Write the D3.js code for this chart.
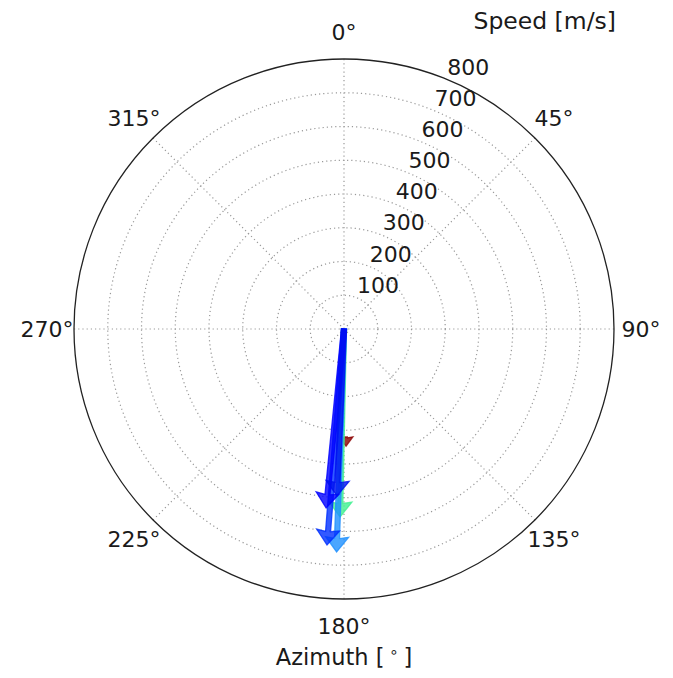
<!DOCTYPE html>
<html>
<head>
<meta charset="utf-8">
<script src="https://cdn.jsdelivr.net/npm/d3@7"></script>
<style>
  body { margin: 0; background: #fff; }
  text { font-family: "DejaVu Sans", sans-serif; fill: #1a1a1a; }
</style>
</head>
<body>
<svg id="chart" width="673" height="678"></svg>
<script>
// Azimuth grid (degrees, clockwise from north) and speed rings (m/s)
const azimuthTicks = [0, 45, 90, 135, 180, 225, 270, 315];
const speedTicks = [100, 200, 300, 400, 500, 600, 700, 800];
const speedMax = 800;

// Wind vectors: start speed, end speed and azimuth of each arrow
const arrowStart   = [320, 0, 0, 0, 0, 0];
const arrowSpeed   = [347, 557, 661, 642, 533, 495];
const arrowAzimuth = [179.0, 181.2, 181.9, 184.5, 185.7, 182.4];
const arrowColor   = ["#8b0000", "#40f090", "#1e90ff", "#0030ff", "#0000ff", "#0010f0"];

const svg = d3.select("#chart");
const cx = 344, cy = 329, R = 270;

const r = d3.scaleLinear().domain([0, speedMax]).range([0, R]);
const toRad = d3.scaleLinear().domain([0, 360]).range([0, 2 * Math.PI]);
const polar = (az, rad) => [cx + rad * Math.sin(toRad(az)), cy - rad * Math.cos(toRad(az))];

const g = svg.append("g");

// dotted rings
g.selectAll("circle.ring")
  .data(speedTicks.filter(d => d < speedMax))
  .join("circle")
  .attr("class", "ring")
  .attr("cx", cx).attr("cy", cy)
  .attr("r", d => r(d))
  .attr("fill", "none")
  .attr("stroke", "#999")
  .attr("stroke-width", 1.2)
  .attr("stroke-dasharray", "1.2,3");

// dotted spokes
g.selectAll("line.spoke")
  .data(azimuthTicks)
  .join("line")
  .attr("class", "spoke")
  .attr("x1", cx).attr("y1", cy)
  .attr("x2", d => polar(d, R)[0])
  .attr("y2", d => polar(d, R)[1])
  .attr("stroke", "#999")
  .attr("stroke-width", 1.2)
  .attr("stroke-dasharray", "1.2,3");

// arrows (drawn along +x, then rotated to the azimuth)
const shaftHalf = 2.5, headHalf = 11.5, headLen = 15, headAxis = 13.5;
function arrowPath(L) {
  const s = Math.min(1, L / headLen);
  const hh = headHalf * s, hl = headLen * s, ha = headAxis * s, sh = shaftHalf * s;
  return d3.line()([
    [0, -sh], [L - ha, -sh], [L - hl, -hh], [L, 0],
    [L - hl, hh], [L - ha, sh], [0, sh]
  ]) + "Z";
}

const arrows = arrowSpeed.map((v, i) => ({
  az: arrowAzimuth[i], r0: arrowStart[i], r1: v, color: arrowColor[i]
}));

g.selectAll("path.arrow")
  .data(arrows)
  .join("path")
  .attr("class", "arrow")
  .attr("d", d => arrowPath(r(d.r1) - r(d.r0)))
  .attr("transform", d => {
    const p = polar(d.az, r(d.r0));
    return `translate(${p[0]},${p[1]}) rotate(${d.az - 90})`;
  })
  .attr("fill", d => d.color)
  .attr("fill-opacity", 0.8)
  .attr("stroke", d => d.color)
  .attr("stroke-opacity", 0.8)
  .attr("stroke-width", 1.3)
  .attr("stroke-linejoin", "miter");

// outer frame
g.append("circle")
  .attr("cx", cx).attr("cy", cy).attr("r", R)
  .attr("fill", "none")
  .attr("stroke", "#222")
  .attr("stroke-width", 1.3);

// azimuth labels
g.selectAll("text.az")
  .data(azimuthTicks)
  .join("text")
  .attr("class", "az")
  .attr("x", d => polar(d, R * 1.1)[0])
  .attr("y", d => polar(d, R * 1.1)[1])
  .attr("text-anchor", "middle")
  .attr("dominant-baseline", "central")
  .attr("font-size", 22)
  .text(d => d + "°");

// speed labels along 22.5°
g.selectAll("text.sp")
  .data(speedTicks)
  .join("text")
  .attr("class", "sp")
  .attr("x", d => polar(22.5, r(d))[0])
  .attr("y", d => polar(22.5, r(d))[1] - 5)
  .attr("text-anchor", "start")
  .attr("font-size", 22)
  .text(d => d);

// titles
svg.append("text")
  .attr("x", 616).attr("y", 29)
  .attr("text-anchor", "end")
  .attr("font-size", 23.5)
  .text("Speed [m/s]");

const az = svg.append("text")
  .attr("x", cx).attr("y", 665)
  .attr("text-anchor", "middle")
  .attr("font-size", 22.5);
az.append("tspan").text("Azimuth [");
az.append("tspan").attr("dy", -8).attr("font-size", 15).text(" ∘ ");
az.append("tspan").attr("dy", 8).text("]");
</script>
</body>
</html>
